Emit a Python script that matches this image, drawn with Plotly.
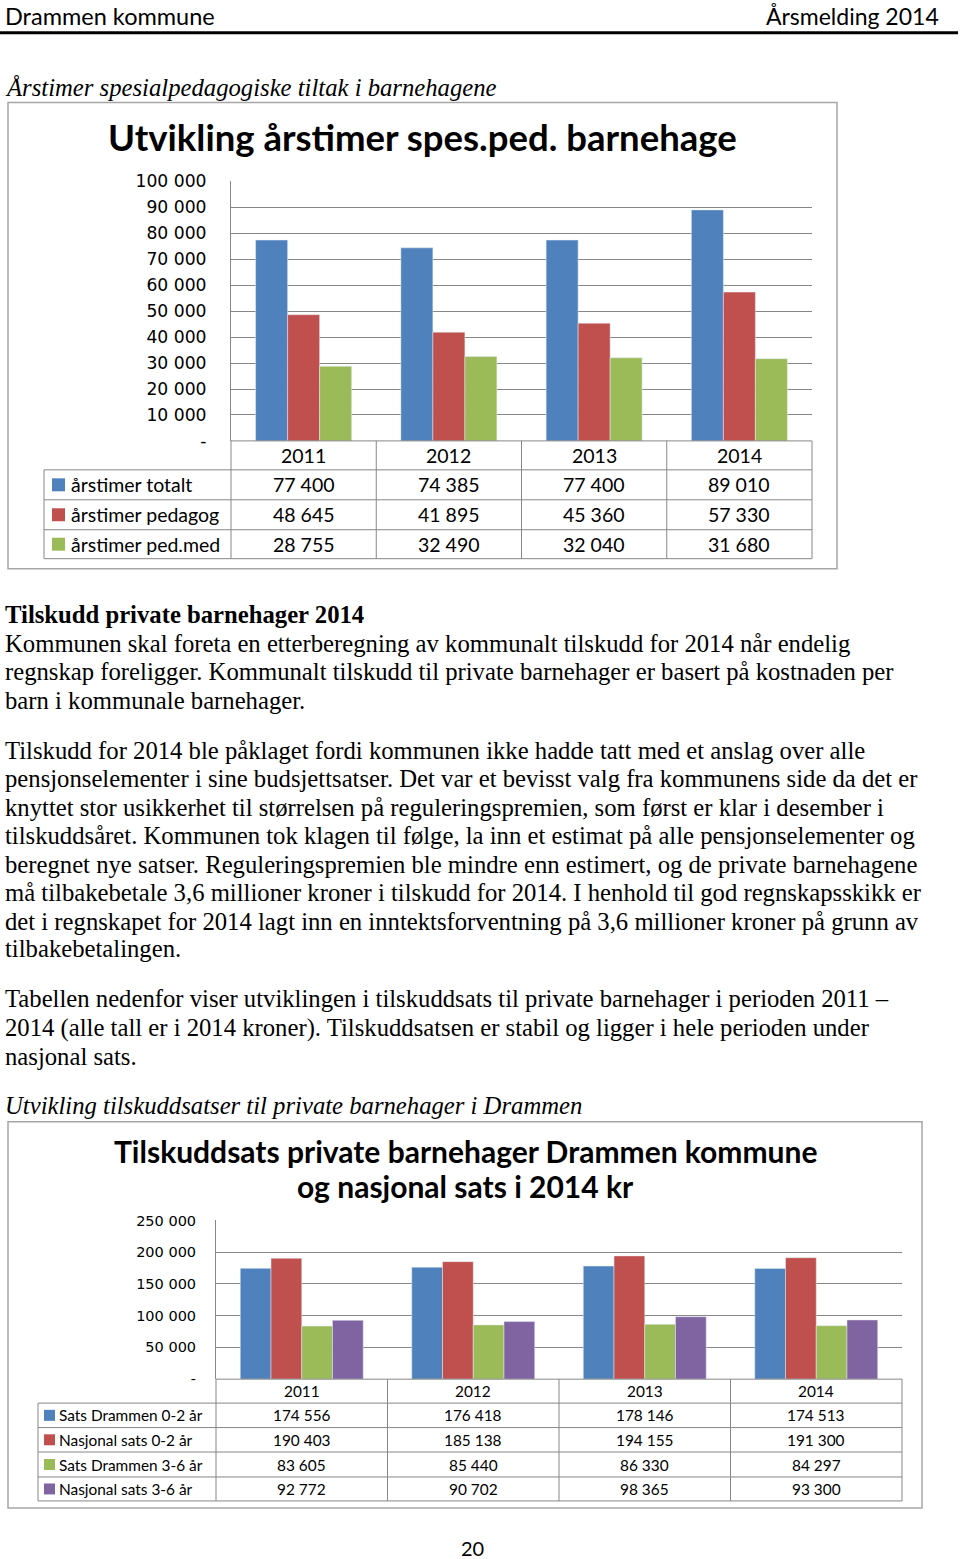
import plotly.graph_objects as go

W, H = 960, 1559
# the page is shown slightly shifted/scaled vertically; positions below are in
# reference pixels and are mapped to paper coordinates with that correction
VOFF, VSCALE = 8.3, 0.989
def px(x): return x / W
def py(y): return 1 - ((y - VOFF) / VSCALE) / H

# ---------------- data ----------------
years = ["2011", "2012", "2013", "2014"]

c1_names = ["årstimer totalt", "årstimer pedagog", "årstimer ped.med"]
c1_totalt = [77400, 74385, 77400, 89010]
c1_pedagog = [48645, 41895, 45360, 57330]
c1_pedmed = [28755, 32490, 32040, 31680]
c1_ticks = [0, 10000, 20000, 30000, 40000, 50000, 60000, 70000, 80000, 90000, 100000]

c2_names = ["Sats Drammen 0-2 år", "Nasjonal sats 0-2 år", "Sats Drammen 3-6 år", "Nasjonal sats 3-6 år"]
c2_dr02 = [174556, 176418, 178146, 174513]
c2_nas02 = [190403, 185138, 194155, 191300]
c2_dr36 = [83605, 85440, 86330, 84297]
c2_nas36 = [92772, 90702, 98365, 93300]
c2_ticks = [0, 50000, 100000, 150000, 200000, 250000]

colors = ["#4F81BD", "#C0504D", "#9BBB59", "#8064A2"]
GRID = "#878787"
SANS = "Lato"
SERIF = "Liberation Serif"
SERIF_SIZE = 24.7

def fmt(v):
    return f"{v:,}".replace(",", " ")

def ticktext(vals):
    return ["-" if v == 0 else fmt(v) for v in vals]

c1_series = [c1_totalt, c1_pedagog, c1_pedmed]
c2_series = [c2_dr02, c2_nas02, c2_dr36, c2_nas36]

# ---------------- geometry (reference pixels) ----------------
G1 = dict(L=231, R=812, T=180, B=440, rows=[469, 499, 529, 558], left=44,
          key=13, keyx=52, labx=70, fs=19.5, tickfs=17.2, standoff=20, group=0.661)
G2 = dict(L=216, R=902, T=1221, B=1380, rows=[1404, 1428.5, 1453, 1478, 1502], left=38,
          key=11, keyx=44, labx=58, fs=15.4, tickfs=14.5, standoff=16, group=0.717)

fig = go.Figure()

def add_bars(names, series, g, xa, ya):
    n = len(series)
    w = g["group"] / n
    for i, (name, vals) in enumerate(zip(names, series)):
        fig.add_trace(go.Bar(x=years, y=vals, name=name, marker_color=colors[i],
                             width=w, offset=-g["group"] / 2 + i * w,
                             xaxis=xa, yaxis=ya, showlegend=False))

add_bars(c1_names, c1_series, G1, "x", "y")
add_bars(c2_names, c2_series, G2, "x2", "y2")

shapes = []
ann = []

def line(x0, y0, x1, y1, color=GRID, width=1):
    shapes.append(dict(type="line", xref="paper", yref="paper",
                       x0=px(x0), y0=py(y0), x1=px(x1), y1=py(y1),
                       line=dict(color=color, width=width)))

def text(x, y, s, size, family=SANS, xanchor="left", color="#000", yanchor="middle"):
    ann.append(dict(xref="paper", yref="paper", x=px(x), y=py(y), text=s,
                    showarrow=False, xanchor=xanchor, yanchor=yanchor,
                    font=dict(family=family, size=size, color=color), borderpad=0))

def table(g, names, series):
    L, R, B, rows, left = g["L"], g["R"], g["B"], g["rows"], g["left"]
    n = len(years)
    col = (R - L) / n
    line(L, B, R, B)
    for e in rows:
        line(left, e, R, e)
    line(left, rows[0], left, rows[-1])
    for i in range(n + 1):
        line(L + i * col, B, L + i * col, rows[-1])
    for i, yr in enumerate(years):
        text(L + (i + 0.5) * col, (B + rows[0]) / 2, yr, g["fs"], xanchor="center")
    for r, (name, vals) in enumerate(zip(names, series)):
        yc = (rows[r] + rows[r + 1]) / 2
        k = g["key"]
        shapes.append(dict(type="rect", xref="paper", yref="paper",
                           x0=px(g["keyx"]), x1=px(g["keyx"] + k),
                           y0=py(yc + k / 2), y1=py(yc - k / 2),
                           fillcolor=colors[r], line=dict(width=0)))
        text(g["labx"], yc, name, g["fs"])
        for i, v in enumerate(vals):
            text(L + (i + 0.5) * col, yc, fmt(v), g["fs"], xanchor="center")

table(G1, c1_names, c1_series)
table(G2, c2_names, c2_series)

# chart frames
for (x0, y0, x1, y1) in [(8, 101, 837, 568), (8, 1122, 922, 1509)]:
    shapes.append(dict(type="rect", xref="paper", yref="paper",
                       x0=px(x0), y0=py(y0), x1=px(x1), y1=py(y1),
                       line=dict(color="#a6a6a6", width=1.5)))

# header
text(4, 14, "Drammen kommune", 23.5, family=SANS)
text(940, 14, "Årsmelding 2014", 23, family=SANS, xanchor="right")
line(0, 31, 958, 31, color="#000", width=3)

# chart titles
text(422, 136, "<b>Utvikling årstimer spes.ped. barnehage</b>", 36.5, xanchor="center")
text(465, 1151, "<b>Tilskuddsats private barnehager Drammen kommune</b>", 30, xanchor="center")
text(465, 1186, "<b>og nasjonal sats i 2014 kr</b>", 30, xanchor="center")

# document text
text(4, 86, "<i>Årstimer spesialpedagogiske tiltak i barnehagene</i>", SERIF_SIZE, family=SERIF)
text(4, 614, "<b>Tilskudd private barnehager 2014</b>", SERIF_SIZE, family=SERIF)

body = [
    (643, "Kommunen skal foreta en etterberegning av kommunalt tilskudd for 2014 når endelig"),
    (671, "regnskap foreligger. Kommunalt tilskudd til private barnehager er basert på kostnaden per"),
    (700, "barn i kommunale barnehager."),
    (750, "Tilskudd for 2014 ble påklaget fordi kommunen ikke hadde tatt med et anslag over alle"),
    (778, "pensjonselementer i sine budsjettsatser. Det var et bevisst valg fra kommunens side da det er"),
    (807, "knyttet stor usikkerhet til størrelsen på reguleringspremien, som først er klar i desember i"),
    (835, "tilskuddsåret. Kommunen tok klagen til følge, la inn et estimat på alle pensjonselementer og"),
    (864, "beregnet nye satser. Reguleringspremien ble mindre enn estimert, og de private barnehagene"),
    (892, "må tilbakebetale 3,6 millioner kroner i tilskudd for 2014. I henhold til god regnskapsskikk er"),
    (921, "det i regnskapet for 2014 lagt inn en inntektsforventning på 3,6 millioner kroner på grunn av"),
    (949, "tilbakebetalingen."),
    (999, "Tabellen nedenfor viser utviklingen i tilskuddsats til private barnehager i perioden 2011 –"),
    (1028, "2014 (alle tall er i 2014 kroner). Tilskuddsatsen er stabil og ligger i hele perioden under"),
    (1057, "nasjonal sats."),
]
for y, s in body:
    text(4, y, s, SERIF_SIZE, family=SERIF)
text(4, 1106, "<i>Utvikling tilskuddsatser til private barnehager i Drammen</i>", SERIF_SIZE, family=SERIF)

text(472, 1549, "20", 20, family=SANS, xanchor="center")

def yaxis(g, ticks, anchor):
    return dict(domain=[py(g["B"]), py(g["T"])], range=[0, ticks[-1]],
                tickvals=ticks, ticktext=ticktext(ticks), showgrid=True,
                gridcolor=GRID, gridwidth=1, zeroline=False, showline=True,
                linecolor=GRID, linewidth=1, anchor=anchor, fixedrange=True,
                ticklabelstandoff=g["standoff"], ticks="",
                tickfont=dict(family="DejaVu Sans", size=g["tickfs"], color="#000"))

def xaxis(g, anchor):
    return dict(domain=[px(g["L"]), px(g["R"])], showticklabels=False, ticks="",
                showline=False, showgrid=False, zeroline=False, anchor=anchor,
                type="category")

fig.update_layout(
    width=W, height=H, margin=dict(l=0, r=0, t=0, b=0),
    paper_bgcolor="white", plot_bgcolor="white",
    barmode="overlay",
    xaxis=xaxis(G1, "y"), yaxis=yaxis(G1, c1_ticks, "x"),
    xaxis2=xaxis(G2, "y2"), yaxis2=yaxis(G2, c2_ticks, "x2"),
    shapes=shapes, annotations=ann, showlegend=False,
)
fig.write_html("out.html")
